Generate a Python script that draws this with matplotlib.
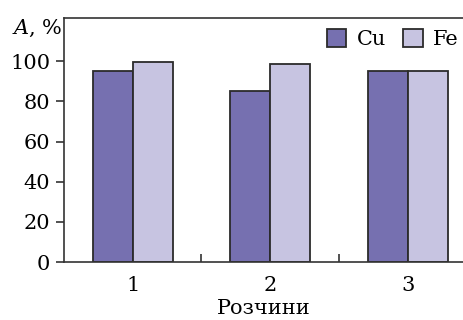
import matplotlib
matplotlib.use("Agg")
import matplotlib.pyplot as plt
import numpy as np

solutions = ["1", "2", "3"]
cu_values = [95, 85, 95]
fe_values = [99.5, 98.5, 95]
y_ticks = [0, 20, 40, 60, 80, 100]

plt.rcParams["font.family"] = ["DejaVu Serif"]
plt.rcParams["mathtext.fontset"] = "dejavuserif"
plt.rcParams["font.size"] = 15

W, H = 464, 320
fig = plt.figure(figsize=(W / 100, H / 100), dpi=100)
ax = fig.add_axes([64 / W, 58 / H, 1 - 64 / W, 244 / H])

x = np.arange(1, len(solutions) + 1)
bw = 0.29
edge = "#2b2b2b"
ax.bar(x - bw / 2, cu_values, bw, color="#7670b0", edgecolor=edge, linewidth=1.3, label="Cu")
ax.bar(x + bw / 2, fe_values, bw, color="#c7c4e1", edgecolor=edge, linewidth=1.3, label="Fe")

ax.set_xlim(0.5, 3.41)
ax.set_ylim(0, 121.5)
ax.set_xticks(x)
ax.set_xticklabels(solutions)
ax.set_xticks([1.5, 2.5], minor=True)
ax.tick_params(axis="x", which="major", length=0, pad=10)
ax.tick_params(axis="x", which="minor", direction="in", length=6, width=1.2, color="#333333")
ax.set_yticks(y_ticks)
ax.tick_params(axis="y", direction="out", length=6, width=1.2, color="#333333", pad=4)
for s in ["left", "bottom", "top"]:
    ax.spines[s].set_linewidth(1.2)
    ax.spines[s].set_color("#333333")
ax.spines["right"].set_visible(False)

ax.set_xlabel("Розчини", labelpad=3)
fig.text(12 / W, 1 - 28 / H, r"$A$, %", ha="left", va="center", fontsize=15)

leg = ax.legend(loc="upper right", bbox_to_anchor=(1.005, 0.985), ncol=2, frameon=False,
                handlelength=0.95, handleheight=0.95, handletextpad=0.5,
                columnspacing=0.8, borderaxespad=0.3, borderpad=0.05)

fig.savefig("out.png", dpi=100)
